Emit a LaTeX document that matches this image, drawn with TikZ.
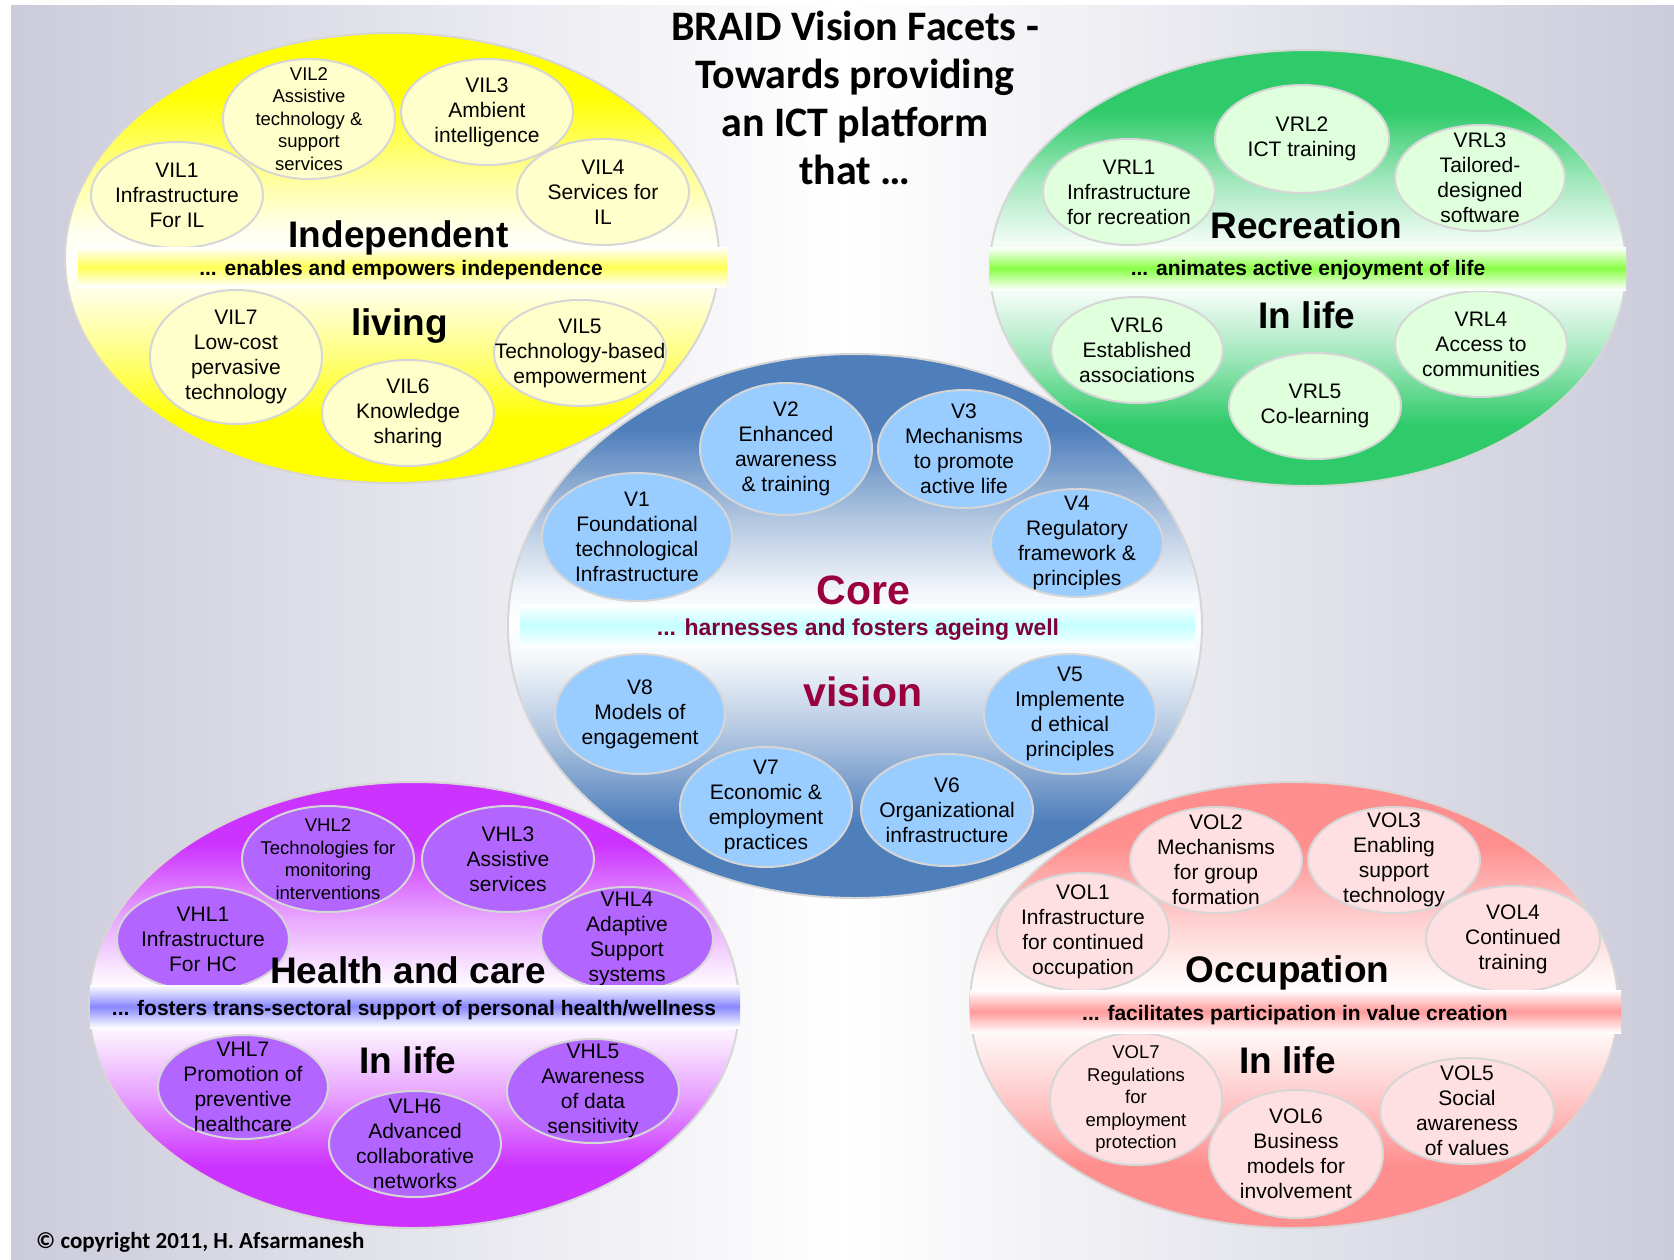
\documentclass[tikz,border=0pt]{standalone}
\usepackage{fontspec}
\setmainfont{Liberation Sans}
\newfontfamily\calib{Carlito}
\usetikzlibrary{shapes.geometric}

\definecolor{bgg}{HTML}{CBCBDB}
\definecolor{bord}{HTML}{D6D6D6}
\definecolor{cY}{HTML}{FFFF00}
\definecolor{cYs}{HTML}{FFFFCC}
\definecolor{cYb}{HTML}{FFFF55}
\definecolor{cG}{HTML}{2FCB6A}
\definecolor{cGs}{HTML}{DFFFDD}
\definecolor{cGb}{HTML}{88FF44}
\definecolor{cB}{HTML}{4F7FBB}
\definecolor{cBs}{HTML}{99CCFF}
\definecolor{cBb}{HTML}{C4FFFF}
\definecolor{cP}{HTML}{CC33FF}
\definecolor{cPs}{HTML}{B266FF}
\definecolor{cPb}{HTML}{8888FF}
\definecolor{cR}{HTML}{FF8E8E}
\definecolor{cRs}{HTML}{FFE0E2}
\definecolor{cRb}{HTML}{FF9A9A}
\definecolor{dred}{HTML}{99003D}
\definecolor{dred2}{HTML}{800038}

\newcommand{\bigshade}[2]{\pgfdeclareverticalshading{#1}{100bp}{color(0bp)=(#2); color(25bp)=(#2); color(32bp)=(#2); color(40bp)=(#2!45!white); color(47bp)=(#2!6!white); color(50bp)=(white); color(53bp)=(#2!6!white); color(60bp)=(#2!45!white); color(68bp)=(#2); color(75bp)=(#2); color(100bp)=(#2)}}
\bigshade{shY}{cY}
\bigshade{shG}{cG}
\bigshade{shB}{cB}
\bigshade{shP}{cP}
\bigshade{shR}{cR}

% #1 text style, #2 name, #3 x, #4 y, #5 rx, #6 ry, #7 fill, #8 text
\newcommand{\bub}[8][btxt]{%
  \node[bubble, #7, minimum width={2*#5pt}, minimum height={2*#6pt}] (#2) at (#3,#4) {};
  \node[#1] (#2-t) at (#2.center) {#8};}

\begin{document}
\begin{tikzpicture}[x=1pt,y=-1pt,
  bubble/.style={ellipse, draw=bord, line width=2pt, inner sep=0pt},
  big/.style={ellipse, draw=bord, line width=2pt, inner sep=0pt},
  btxt/.style={font=\fontsize{21}{25}\selectfont, align=center, inner sep=0pt},
  bsm/.style={font=\fontsize{18.5}{22.5}\selectfont, align=center, inner sep=0pt},
  band/.style={rectangle, inner sep=0pt, top color=white, bottom color=white},
  bandtxt/.style={font=\fontsize{21}{25}\selectfont\bfseries, inner sep=0pt, anchor=base},
  head/.style={font=\fontsize{37}{44}\selectfont\bfseries, inner sep=0pt, anchor=base},
  chead/.style={font=\fontsize{41}{48}\selectfont\bfseries, inner sep=0pt, anchor=base, text=dred}]

\useasboundingbox (0,0) rectangle (1674,1259);
\fill[white] (0,0) rectangle (1674,1259);
\node[rectangle, inner sep=0pt, anchor=north west, minimum width=1663pt, minimum height=1254pt,
  left color=bgg, right color=bgg, middle color=white] (bg) at (11,5) {};

% big ellipses
\node[big, shading=shY, minimum width=654pt, minimum height=450pt] (yel) at (392,258) {};
\node[big, shading=shG, minimum width=636pt, minimum height=436pt] (grn) at (1308,268) {};
\node[big, shading=shP, minimum width=650pt, minimum height=446pt] (pur) at (414,1005) {};
\node[big, shading=shR, minimum width=648pt, minimum height=446pt] (red) at (1294,1005) {};
\node[big, shading=shB, minimum width=694pt, minimum height=544pt] (core) at (855,626) {};

% Independent living
\bub{vil1}{177}{195}{86}{53}{fill=cYs}{VIL1\\Infrastructure\\For IL}
\bub[bsm]{vil2}{309}{119}{86}{60}{fill=cYs}{VIL2\\Assistive\\technology \&\\support\\services}
\bub{vil3}{487}{112}{86}{53}{fill=cYs}{VIL3\\Ambient\\intelligence}
\bub{vil4}{603}{192}{86}{53}{fill=cYs}{VIL4\\Services for\\IL}
\bub{vil5}{580}{353}{86}{53}{fill=cYs}{VIL5\\Technology-based\\empowerment}
\bub{vil6}{408}{413}{86}{53}{fill=cYs}{VIL6\\Knowledge\\sharing}
\bub{vil7}{236}{357}{86}{67}{fill=cYs}{VIL7\\Low-cost\\pervasive\\technology}

% Recreation
\bub{vrl1}{1129}{192}{86}{53}{fill=cGs}{VRL1\\Infrastructure\\for recreation}
\bub{vrl2}{1302}{139}{87}{54}{fill=cGs}{VRL2\\ICT training}
\bub{vrl3}{1480}{178}{85}{53}{fill=cGs}{VRL3\\Tailored-\\designed\\software}
\bub{vrl4}{1481}{344}{86}{53}{fill=cGs}{VRL4\\Access to\\communities}
\bub{vrl5}{1315}{406}{86}{53}{fill=cGs}{VRL5\\Co-learning}
\bub{vrl6}{1137}{350}{86}{53}{fill=cGs}{VRL6\\Established\\associations}

% Core
\bub{v2}{786}{449}{86}{66}{fill=cBs}{V2\\Enhanced\\awareness\\\& training}
\bub{v1}{637}{537}{95}{64}{fill=cBs}{V1\\Foundational\\technological\\Infrastructure}
\bub{v3}{964}{449}{86}{59}{fill=cBs}{V3\\Mechanisms\\to promote\\active life}
\bub{v4}{1077}{543}{86}{54}{fill=cBs}{V4\\Regulatory\\framework \&\\principles}
\bub{v5}{1070}{714}{86}{60}{fill=cBs}{V5\\Implemente\\d ethical\\principles}
\bub{v6}{947}{810}{86}{56}{fill=cBs}{V6\\Organizational\\infrastructure}
\bub{v7}{766}{807}{86}{60}{fill=cBs}{V7\\Economic \&\\employment\\practices}
\bub{v8}{640}{714}{85}{60}{fill=cBs}{V8\\Models of\\engagement}

% Health and care
\bub{vhl1}{203}{939}{86}{52}{fill=cPs}{VHL1\\Infrastructure\\For HC}
\bub[bsm]{vhl2}{328}{859}{86}{53}{fill=cPs}{VHL2\\Technologies for\\monitoring\\interventions}
\bub{vhl3}{508}{859}{86}{53}{fill=cPs}{VHL3\\Assistive\\services}
\bub{vhl4}{627}{939}{86}{52}{fill=cPs}{VHL4\\Adaptive\\Support\\systems}
\bub{vhl5}{593}{1091}{86}{52}{fill=cPs}{VHL5\\Awareness\\of data\\sensitivity}
\bub{vlh6}{415}{1144}{86}{53}{fill=cPs}{VLH6\\Advanced\\collaborative\\networks}
\bub{vhl7}{243}{1087}{85}{52}{fill=cPs}{VHL7\\Promotion of\\preventive\\healthcare}

% Occupation
\bub{vol1}{1083}{932}{86}{59}{fill=cRs}{VOL1\\Infrastructure\\for continued\\occupation}
\bub{vol2}{1216}{860}{86}{53}{fill=cRs}{VOL2\\Mechanisms\\for group\\formation}
\bub{vol3}{1394}{860}{86}{53}{fill=cRs}{VOL3\\Enabling\\support\\technology}
\bub{vol4}{1513}{939}{87}{53}{fill=cRs}{VOL4\\Continued\\training}
\bub{vol5}{1467}{1111}{87}{53}{fill=cRs}{VOL5\\Social\\awareness\\of values}
\bub{vol6}{1296}{1154}{87}{64}{fill=cRs}{VOL6\\Business\\models for\\involvement}
\bub[bsm]{vol7}{1136}{1099}{86}{66}{fill=cRs}{VOL7\\Regulations\\for\\employment\\protection}

% bands
\node[band, middle color=cYb, minimum width=649pt, minimum height=40pt] (yband) at (402.5,267) {};
\node[band, middle color=cGb, minimum width=636pt, minimum height=43pt] (gband) at (1308,268.5) {};
\node[band, middle color=cBb, minimum width=675pt, minimum height=43pt] (bband) at (857.5,625.5) {};
\node[band, middle color=cPb, minimum width=650pt, minimum height=43pt] (pband) at (415,1006.5) {};
\node[band, middle color=cRb, minimum width=651pt, minimum height=43pt] (rband) at (1295.5,1011.5) {};

\node[bandtxt] (yband-t) at (401,275) {... enables and empowers independence};
\node[bandtxt] (gband-t) at (1308,275) {... animates active enjoyment of life};
\node[bandtxt, font=\fontsize{23}{27}\selectfont\bfseries, text=dred2] (bband-t) at (858,635) {... harnesses and fosters ageing well};
\node[bandtxt] (pband-t) at (414,1015) {... fosters trans-sectoral support of personal health/wellness};
\node[bandtxt] (rband-t) at (1295,1020) {... facilitates participation in value creation};

% headings
\node[head] (h-ind) at (398.5,247) {Independent};
\node[head] (h-liv) at (399.5,335) {living};
\node[head] (h-rec) at (1306,238) {Recreation};
\node[head] (h-gl) at (1307,328) {In life};
\node[chead] (h-core) at (863.5,604) {Core};
\node[chead] (h-vis) at (863,706) {vision};
\node[head] (h-hc) at (408,983) {Health and care};
\node[head] (h-pl) at (408,1073) {In life};
\node[head] (h-occ) at (1287.5,982) {Occupation};
\node[head] (h-rl) at (1287.5,1073) {In life};

% title and copyright
\node[font=\calib\bfseries\fontsize{42}{48}\selectfont, align=center, inner sep=0pt, anchor=north] (title) at (855,11)
  {BRAID Vision Facets -\\Towards providing\\an ICT platform\\that …};
\node[font=\calib\bfseries\fontsize{23}{27}\selectfont, inner sep=0pt, anchor=base west] (copy) at (36,1248)
  {© copyright 2011, H. Afsarmanesh};
\end{tikzpicture}
\end{document}
